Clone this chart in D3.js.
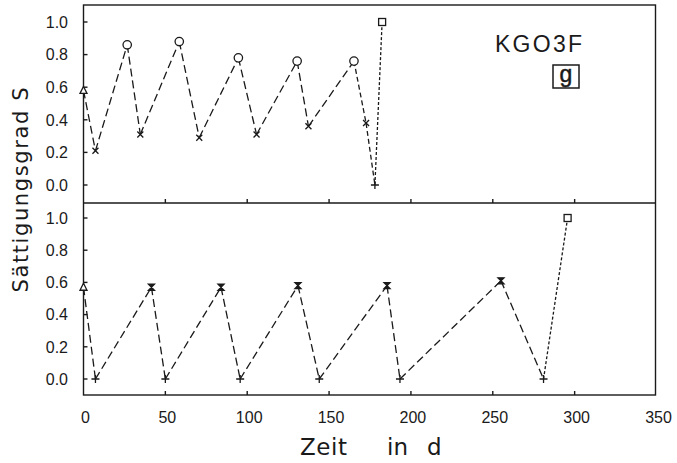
<!DOCTYPE html>
<html><head><meta charset="utf-8">
<script src="https://cdn.jsdelivr.net/npm/d3@7"></script>
<style>body{margin:0;background:#fff}svg{display:block}</style>
</head><body><svg id="c" width="677" height="463"></svg>
<script>
// ---- data ----
const xTicks = [0, 50, 100, 150, 200, 250, 300, 350];
const yTicks = [0, 0.2, 0.4, 0.6, 0.8, 1.0];
const yTickLabels = ["0.0", "0.2", "0.4", "0.6", "0.8", "1.0"];

const topDays = [0, 7.3, 26.7, 34.7, 58.5, 70.7, 94.6, 105.7, 130.5, 137.4, 165.2, 172.6, 178, 182.4];
const topS    = [0.58, 0.21, 0.86, 0.31, 0.88, 0.29, 0.78, 0.31, 0.76, 0.36, 0.76, 0.38, 0.0, 1.0];
const topMarks = ["tri","x","o","x","o","x","o","x","o","x","o","x","+","sq"];
const topSegStyle = ["a","a","a","a","a","a","a","a","a","a","b","b","c"];

const botDays = [0, 7.3, 41.5, 50, 84, 95.7, 131, 144, 185.4, 193.3, 255, 281, 295.7];
const botS    = [0.57, 0.0, 0.57, 0.0, 0.57, 0.0, 0.58, 0.0, 0.58, 0.0, 0.61, 0.0, 1.0];
const botMarks = ["tri","+","hg","+","hg","+","hg","+","hg","+","hg","+","sq"];
const botSegStyle = ["a","a","a","a","a","a","a","a","a","a","a","c"];

const panelLabel = "KGO3F";
const panelTag = "g";
const yTitle = "Sättigungsgrad S";

// ---- layout ----
const svg = d3.select("#c");
const ink = "#1a1a1a";
const x = d3.scaleLinear().domain([0, 350]).range([83.5, 656.5]);
const frameL = 83.5, frameR = 655.5, frameT = 5, divY = 203, frameB = 395;
const yTop = d3.scaleLinear().domain([0, 1]).range([185, 22]);
const yBot = d3.scaleLinear().domain([0, 1]).range([379, 218]);
const dashes = {a: "8,4", b: "5,3", c: "3,2"};
const font = "'Liberation Sans', Arial, sans-serif";

// frame
const g = svg.append("g").attr("stroke", ink).attr("fill", "none").attr("stroke-width", 1.4);
g.append("rect").attr("x", frameL).attr("y", frameT).attr("width", frameR - frameL).attr("height", frameB - frameT);
g.append("line").attr("x1", frameL).attr("x2", frameR).attr("y1", divY).attr("y2", divY);

// x ticks (inward) on divider and bottom
[divY, frameB].forEach(yy => {
  xTicks.filter(t => x(t) > frameL + 2 && x(t) < frameR - 2).forEach(t => {
    g.append("line").attr("x1", x(t)).attr("x2", x(t)).attr("y1", yy).attr("y2", yy - 4);
  });
});
// x tick labels
svg.append("g").selectAll("text").data(xTicks).join("text")
  .attr("x", d => x(d) + 2).attr("y", 423).attr("text-anchor", "middle")
  .attr("font-family", font).attr("font-size", 16).attr("fill", ink).text(d => d);

// y axes
[yTop, yBot].forEach(ys => {
  yTicks.forEach((t, i) => {
    g.append("line").attr("x1", frameL).attr("x2", frameL + 4).attr("y1", ys(t)).attr("y2", ys(t));
    svg.append("text").attr("x", 68).attr("y", ys(t)).attr("dy", "0.36em")
      .attr("text-anchor", "end").attr("font-family", font).attr("font-size", 16)
      .attr("fill", ink).text(yTickLabels[i]);
  });
});

// titles
svg.append("text").attr("transform", "translate(28,190) rotate(-90)")
  .attr("text-anchor", "middle").attr("font-family", "'DejaVu Sans', sans-serif")
  .attr("font-size", 21).attr("fill", ink)
  .attr("textLength", 205).attr("lengthAdjust", "spacing").text(yTitle);
const xt = svg.append("g").attr("font-family", "'DejaVu Sans', sans-serif").attr("font-size", 23).attr("fill", ink);
xt.append("text").attr("x", 300).attr("y", 455).attr("textLength", 47).attr("lengthAdjust", "spacing").text("Zeit");
xt.append("text").attr("x", 387).attr("y", 455).text("in");
xt.append("text").attr("x", 427).attr("y", 455).text("d");

svg.append("text").attr("x", 495).attr("y", 52).attr("font-family", font).attr("font-size", 23)
  .attr("fill", ink).attr("textLength", 87).attr("lengthAdjust", "spacing").text(panelLabel);
svg.append("rect").attr("x", 553).attr("y", 65).attr("width", 26).attr("height", 23)
  .attr("fill", "none").attr("stroke", ink).attr("stroke-width", 1.5);
svg.append("text").attr("x", 566).attr("y", 82).attr("text-anchor", "middle")
  .attr("font-family", font).attr("font-size", 23).attr("fill", ink)
  .attr("stroke", ink).attr("stroke-width", 0.5).text(panelTag);

// series
function drawSeries(days, vals, marks, segs, ys) {
  const pts = days.map((d, i) => [x(d), ys(vals[i])]);
  const sg = svg.append("g").attr("stroke", ink).attr("fill", "none").attr("stroke-width", 1.3);
  segs.forEach((s, i) => {
    sg.append("line").attr("x1", pts[i][0]).attr("y1", pts[i][1])
      .attr("x2", pts[i + 1][0]).attr("y2", pts[i + 1][1]).attr("stroke-dasharray", dashes[s]);
  });
  const mg = svg.append("g").attr("stroke", ink).attr("stroke-width", 1.3);
  pts.forEach(([px, py], i) => {
    const m = marks[i];
    const t = mg.append("g").attr("transform", `translate(${px},${py})`);
    if (m === "o") t.append("circle").attr("r", 4.2).attr("fill", "#fff");
    else if (m === "x") t.append("path").attr("d", "M-3,-3L3,3M-3,3L3,-3").attr("fill", "none");
    else if (m === "+") t.append("path").attr("d", "M-4,0H4M0,-4V4").attr("fill", "none");
    else if (m === "sq") t.append("rect").attr("x", -3.5).attr("y", -3.5).attr("width", 7).attr("height", 7).attr("fill", "#fff");
    else if (m === "tri") t.append("path").attr("d", "M0,-4L3.5,3L-3.5,3Z").attr("fill", "#fff");
    else if (m === "hg") t.append("path").attr("d", "M-3,-3H3L-3,3H3Z").attr("fill", ink);
  });
}
drawSeries(topDays, topS, topMarks, topSegStyle, yTop);
drawSeries(botDays, botS, botMarks, botSegStyle, yBot);
</script></body></html>
